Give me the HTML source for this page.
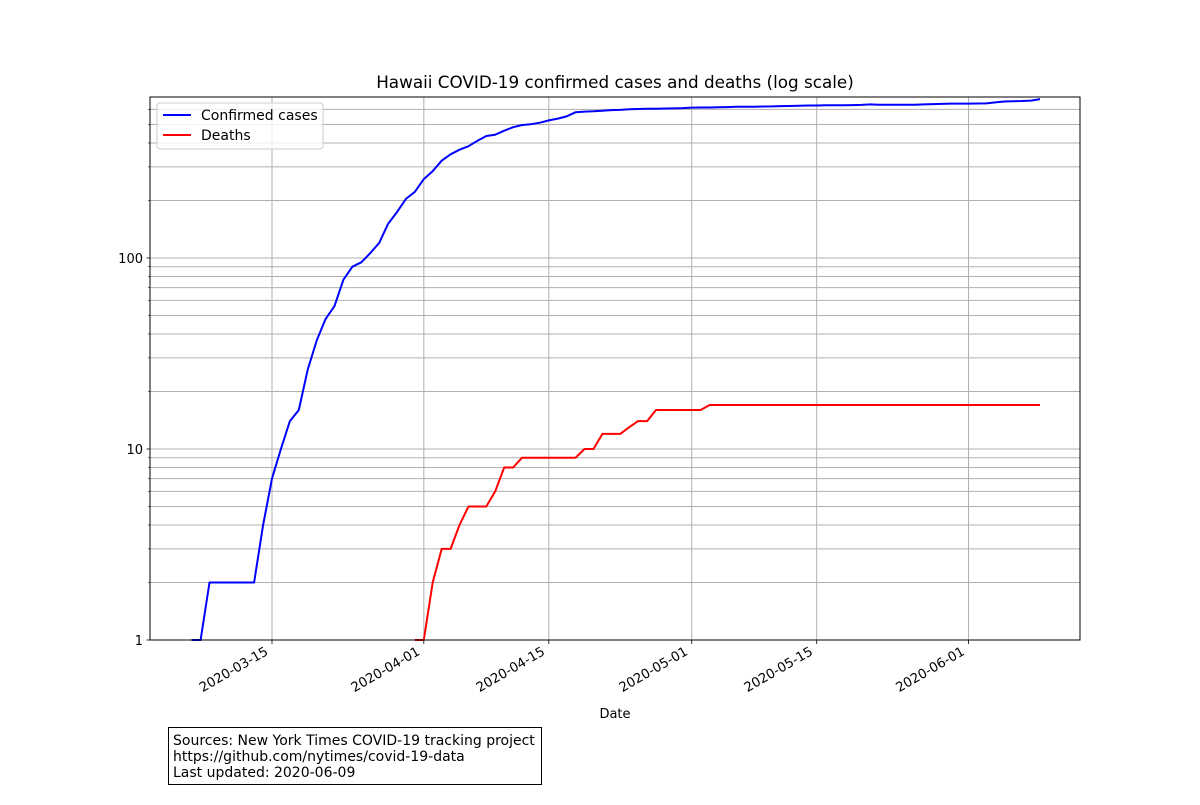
<!DOCTYPE html>
<html><head><meta charset="utf-8"><style>
body{margin:0;background:#fff;font-family:"Liberation Sans","DejaVu Sans",sans-serif;}
svg text{font-family:"DejaVu Sans","Liberation Sans",sans-serif;}
</style></head><body>
<svg id="chart" width="1200" height="800" xmlns="http://www.w3.org/2000/svg">
<rect width="1200" height="800" fill="#fff"/>
<g id="grid"></g>
<g id="series"></g>
<rect x="150" y="97" width="930" height="543" fill="none" stroke="#000" stroke-width="1"/>
<g id="ticks"></g>
<text x="615" y="88" font-size="16.8" text-anchor="middle">Hawaii COVID-19 confirmed cases and deaths (log scale)</text>
<text x="615" y="718" font-size="13" text-anchor="middle">Date</text>
<g>
<rect x="157" y="103" width="166" height="46" rx="3" fill="#fff" fill-opacity="0.8" stroke="#ccc"/>
<line x1="163" y1="115" x2="191" y2="115" stroke="#0000ff" stroke-width="2"/>
<text x="201" y="120" font-size="14">Confirmed cases</text>
<line x1="163" y1="135" x2="191" y2="135" stroke="#ff0000" stroke-width="2"/>
<text x="201" y="140" font-size="14">Deaths</text>
</g>
<g>
<rect x="168.5" y="727.5" width="373" height="57" fill="#fff" stroke="#000"/>
<text x="173" y="745" font-size="14">Sources: New York Times COVID-19 tracking project</text>
<text x="173" y="761" font-size="14">https://github.com/nytimes/covid-19-data</text>
<text x="173" y="777" font-size="14">Last updated: 2020-06-09</text>
</g>
</svg>
<script>
const casesStart = "2020-03-06";
const cases = [1,1,2,2,2,2,2,2,4,7,10,14,16,26,37,48,56,77,90,95,106,120,151,174,204,222,259,285,323,349,369,385,411,435,442,464,484,497,502,511,525,537,551,580,
584,586,590,595,596,601,603,604,605,606,607,609,613,614,614,615,617,619,620,620,621,622,624,625,627,629,629,630,631,631,632,633,637,634,635,635,635,635,637,639,641,643,643,643,644,645,653,660,662,664,667,679];
const deathsStart = "2020-03-31";
const deaths = [1,1,2,3,3,4,5,5,5,6,8,8,9,9,9,9,9,9,9,10,10,12,12,12,13,14,14,16,16,16,16,16,16,17,17,17,17,17,17,17,17,17,17,17,17,17,17,17,17,17,17,17,17,17,17,17,17,17,17,17,17,17,17,17,17,17,17,17,17,17,17];
const xTickLabels = ["2020-03-15","2020-04-01","2020-04-15","2020-05-01","2020-05-15","2020-06-01"];
const yTickLabels = [1,10,100];
const NS="http://www.w3.org/2000/svg";
const DAY=86400000;
const L=150,R=1080,T=97,B=640;
const ref=Date.parse("2020-03-15"), pxDay=8.93;
const xMin=ref-(272-L)/pxDay*DAY, xMax=ref+(R-272)/pxDay*DAY;
const yMinLog=0, yMaxLog=(B-T)/191;
function xs(t){return L+(t-xMin)/(xMax-xMin)*(R-L);}
function ys(v){return B-(Math.log10(v)-yMinLog)/(yMaxLog-yMinLog)*(B-T);}
function mk(tag,attrs,parent){const e=document.createElementNS(NS,tag);for(const k in attrs)e.setAttribute(k,attrs[k]);parent.appendChild(e);return e;}
const grid=document.getElementById('grid'),ticks=document.getElementById('ticks'),series=document.getElementById('series');
for(let d=1;d<=100;d*=10){for(let m=1;m<=9;m++){const v=d*m;const y=ys(v);if(y<T)continue;
 const g=mk('line',{x1:L,x2:R,y1:y,y2:y,stroke:'#b0b0b0','stroke-width':1},grid);
 
 
 const tk=mk('line',{x1:L,x2:L-(m===1?3.5:2),y1:y,y2:y,stroke:'#000','stroke-width':m===1?0.8:0.6},ticks);
 
 
}}
yTickLabels.forEach(v=>{const t=mk('text',{x:L-7,y:ys(v)+5,'font-size':13,'text-anchor':'end'},ticks);t.textContent=v;
 
 });
xTickLabels.forEach(s=>{const x=xs(Date.parse(s));
 const g=mk('line',{x1:x,x2:x,y1:T,y2:B,stroke:'#b0b0b0','stroke-width':1},grid);
 
 
 const tk=mk('line',{x1:x,x2:x,y1:B,y2:B+4,stroke:'#000','stroke-width':0.8},ticks);
 
 
 const ax=x-3, ay=B+14;
 const t=mk('text',{x:ax,y:ay,'font-size':13.2,'text-anchor':'end',transform:`rotate(-30 ${ax} ${ay})`},ticks);t.textContent=s;
 
 });
function line(start,vals,color,name){const t0=Date.parse(start);
 const pts=vals.map((v,i)=>xs(t0+i*DAY).toFixed(1)+','+ys(v).toFixed(1)).join(' ');
 const p=mk('polyline',{points:pts,fill:'none',stroke:color,'stroke-width':2,'stroke-linejoin':'round'},series);
 
 }
line(casesStart,cases,'#0000ff','cases-line');
line(deathsStart,deaths,'#ff0000','deaths-line');
</script>
</body></html>
